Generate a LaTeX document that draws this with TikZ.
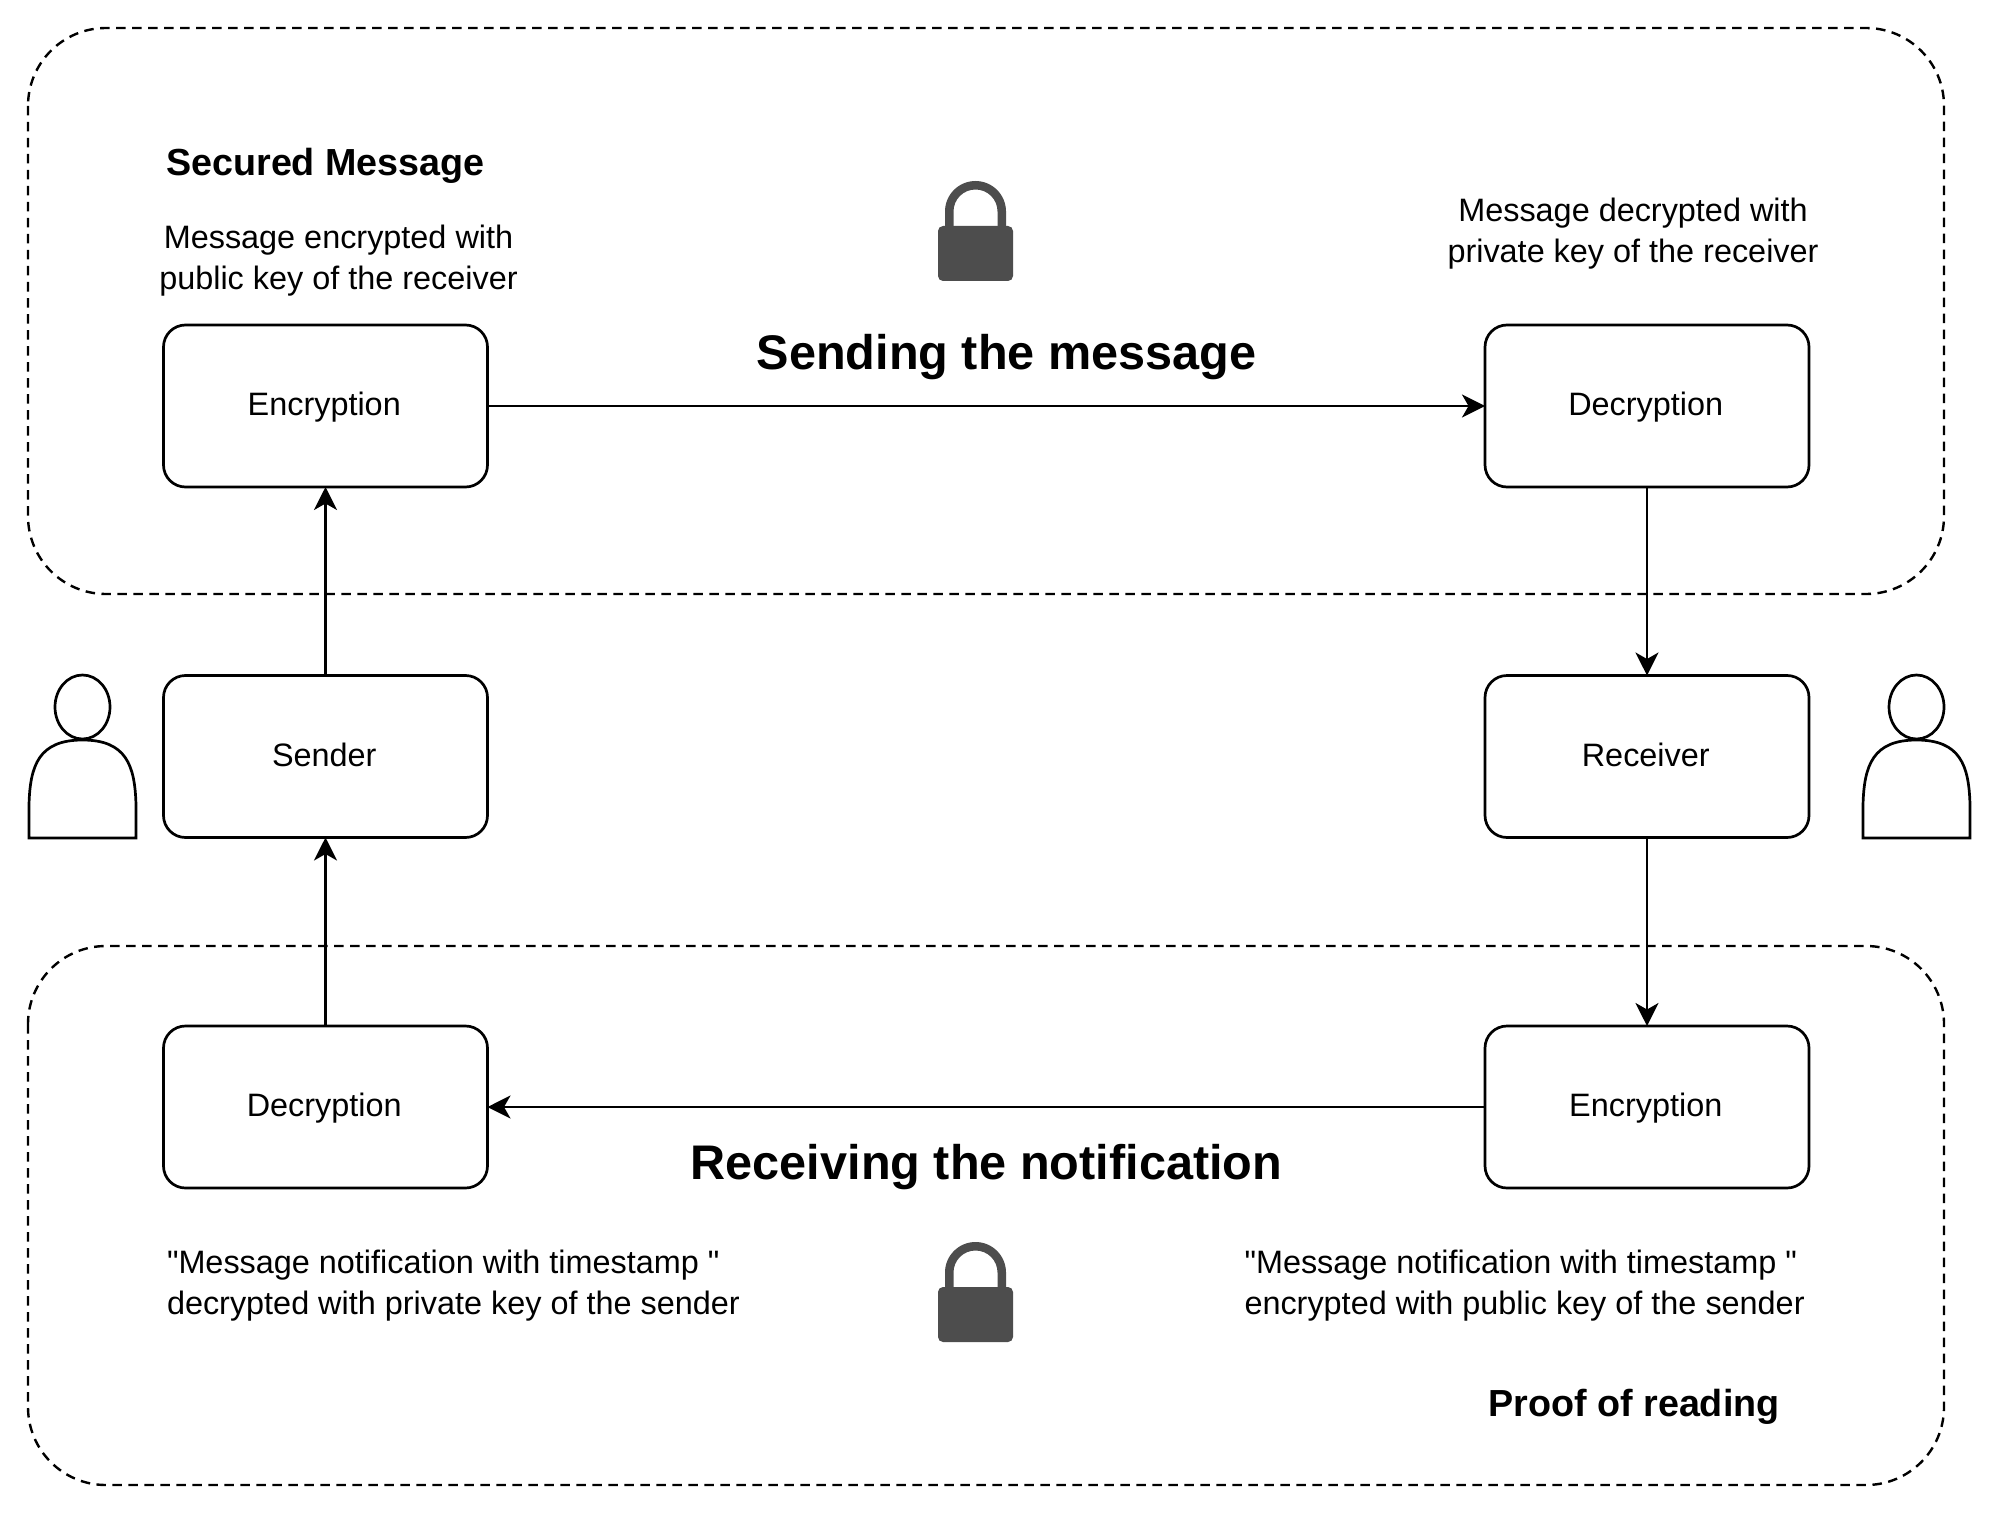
\documentclass[tikz,border=0pt]{standalone}
\usepackage{fontspec}
\setmainfont{Liberation Sans}[Ligatures=TeXOff]
\usetikzlibrary{arrows.meta}
\definecolor{lockgray}{HTML}{4D4D4D}
\tikzset{
  x=1pt,y=-1pt,
  flowbox/.style={draw=black,line width=2.7pt,rounded corners=22pt,minimum width=324pt,minimum height=162pt,inner sep=0pt,outer sep=0pt,
    font=\fontsize{32.4}{41}\selectfont,text height=26pt,text depth=6.5pt,execute at end node=\kern2.5pt},
  region/.style={draw=black,rounded corners=78pt,line width=2.4pt,dash pattern=on 9.5pt off 6.5pt},
  flow/.style={draw=black,line width=2.7pt,-{Stealth[length=23pt,width=23pt,inset=6.5pt]}},
  note/.style={inner sep=0pt,outer sep=0pt,font=\fontsize{32.4}{41}\selectfont},
  subhead/.style={inner sep=0pt,outer sep=0pt,font=\fontsize{37.7}{41}\selectfont\bfseries},
  mainhead/.style={inner sep=0pt,outer sep=0pt,font=\fontsize{48.6}{56}\selectfont\bfseries},
  lockpic/.pic={
    \fill[lockgray,rounded corners=5pt] (-37.5,45) rectangle (37.5,100);
    \fill[lockgray] (-30.5,47) -- (-30.5,30.5) arc[start angle=180,end angle=360,radius=30.5] -- (30.5,47) -- (22,47) -- (22,30.5) arc[start angle=360,end angle=180,radius=22] -- (-22,47) -- cycle;
  },
  personpic/.pic={
    \draw[line width=2.7pt] (0,-131) ellipse[x radius=27.5,y radius=32];
    \draw[line width=2.7pt,line join=miter] (-53.5,0) -- (-53.5,-33) .. controls (-52.5,-73) and (-43.5,-98) .. (0,-98) .. controls (43.5,-98) and (52.5,-73) .. (53.5,-33) -- (53.5,0) -- cycle;
  }
}
\begin{document}
\begin{tikzpicture}
\useasboundingbox (0,0) rectangle (1999,1514);
\fill[white] (0,0) rectangle (1999,1514);

\draw[region] (28,28) rectangle (1944,594);
\draw[region] (28,946) rectangle (1944,1485);

\node[flowbox] (enc1) at (325.5,406) {Encryption};
\node[flowbox] (dec1) at (1647,406) {Decryption};
\node[flowbox] (send) at (325.5,756.5) {Sender};
\node[flowbox] (recv) at (1647,756.5) {Receiver};
\node[flowbox] (dec2) at (325.5,1107) {Decryption};
\node[flowbox] (enc2) at (1647,1107) {Encryption};

\draw[flow] (send) -- (enc1);
\draw[flow] (enc1) -- (dec1);
\draw[flow] (dec1) -- (recv);
\draw[flow] (recv) -- (enc2);
\draw[flow] (enc2) -- (dec2);
\draw[flow] (dec2) -- (send);

\pic at (82.5,838) {personpic};
\pic at (1916.5,838) {personpic};
\pic at (975.5,181) {lockpic};
\pic at (975.5,1242) {lockpic};

\node[subhead] (sec) at (325.5,165.5) {Secured Message};
\node[note,align=center] (noteenc) at (338.5,261) {Message encrypted with\\public key of the receiver};
\node[note,align=center] (notedec) at (1633,234) {Message decrypted with\\private key of the receiver};
\node[mainhead] (sendhead) at (1006.5,357) {Sending the message};
\node[mainhead] (recvhead) at (986.5,1167) {Receiving the notification};
\node[note,align=left,anchor=west] (notesend) at (167,1286) {"Message notification with timestamp "\\decrypted with private key of the sender};
\node[note,align=left,anchor=west] (noterecv) at (1244.5,1286) {"Message notification with timestamp "\\encrypted with public key of the sender};
\node[subhead] (proof) at (1634,1407) {Proof of reading};
\end{tikzpicture}
\end{document}
